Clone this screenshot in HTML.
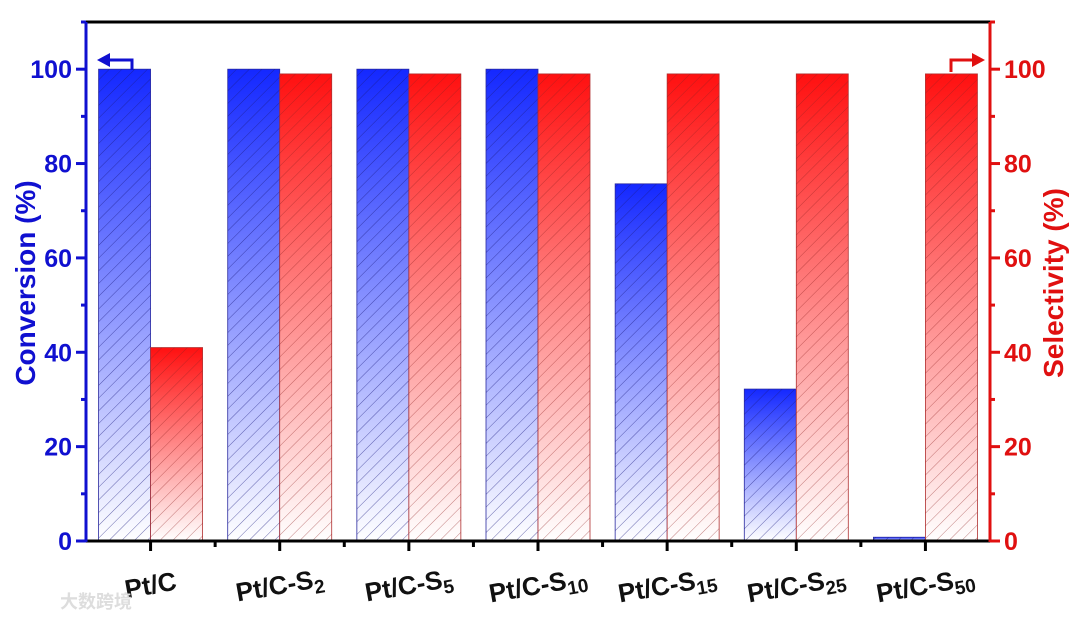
<!DOCTYPE html>
<html><head><meta charset="utf-8"><style>
html,body{margin:0;padding:0;background:#fff;width:1080px;height:621px;overflow:hidden}
svg{display:block;font-family:"Liberation Sans",Arial,sans-serif;font-weight:bold}
</style></head><body>
<svg id="chart" width="1080" height="621" viewBox="0 0 1080 621">
<defs>
<linearGradient id="gb" x1="0" y1="0" x2="0" y2="1"><stop offset="0" stop-color="#1428ff"/><stop offset="1" stop-color="#ffffff"/></linearGradient>
<linearGradient id="gr" x1="0" y1="0" x2="0" y2="1"><stop offset="0" stop-color="#ff1010"/><stop offset="1" stop-color="#ffffff"/></linearGradient>
<pattern id="hb" width="9" height="9" patternUnits="userSpaceOnUse" patternTransform="rotate(45)"><line x1="0" y1="0" x2="0" y2="9" stroke="#1a1a80" stroke-width="0.8" opacity="0.8"/></pattern>
<pattern id="hr" width="9" height="9" patternUnits="userSpaceOnUse" patternTransform="rotate(45)"><line x1="0" y1="0" x2="0" y2="9" stroke="#902020" stroke-width="0.8" opacity="0.7"/></pattern>
</defs>
<g id="bars"></g>
<g id="axes"></g>
</svg>
<script>
const categories=["Pt/C","Pt/C-S|2","Pt/C-S|5","Pt/C-S|10","Pt/C-S|15","Pt/C-S|25","Pt/C-S|50"];
const conversion=[100,100,100,100,75.7,32.2,0.8];
const selectivity=[41,99,99,99,99,99,99];
const yTicks=[0,20,40,60,80,100];
const L=86,R=990,T=22,B=541,YMAX=110;
const step=(R-L)/categories.length;
const xc=i=>L+step*(i+0.5);
const y=v=>B-(v/YMAX)*(B-T);
const NS="http://www.w3.org/2000/svg";
function mk(tag,attrs,parent){const e=document.createElementNS(NS,tag);for(const k in attrs)e.setAttribute(k,attrs[k]);parent.appendChild(e);return e;}
const bars=document.getElementById('bars'),axes=document.getElementById('axes');
const BW=52;
categories.forEach((c,i)=>{
  [[conversion[i],xc(i)-BW,'gb','hb','#2a2aa0','conversion'],[selectivity[i],xc(i),'gr','hr','#b03030','selectivity']].forEach(([v,x,g,h,s,n])=>{
    const r=mk('rect',{x:x,y:y(v),width:BW,height:B-y(v),fill:'url(#'+g+')',stroke:s,'stroke-width':0.8},bars);
    
    
    const o=mk('rect',{x:x,y:y(v),width:BW,height:B-y(v),fill:'url(#'+h+')'},bars);
    
    
  });
  const [base,sub]=c.split('|');
  const t=mk('text',{x:xc(i),y:594,'font-size':26,fill:'#111','text-anchor':'middle',transform:`rotate(-10 ${xc(i)} 585)`},axes);
  
  
  t.textContent=base;
  if(sub){const ts=mk('tspan',{'font-size':19,dy:6},t);ts.textContent=sub;}
});
mk('line',{x1:L,y1:T,x2:R,y2:T,stroke:'#000','stroke-width':3},axes);
const bx=mk('line',{x1:L,y1:B,x2:R,y2:B,stroke:'#000','stroke-width':3},axes);

for(let i=0;i<categories.length;i++){mk('line',{x1:xc(i),y1:B,x2:xc(i),y2:B+10,stroke:'#000','stroke-width':3},axes);if(i<categories.length-1)mk('line',{x1:L+step*(i+1),y1:B,x2:L+step*(i+1),y2:B+6,stroke:'#000','stroke-width':3},axes);}
const la=mk('line',{x1:L,y1:T,x2:L,y2:B+1,stroke:'#1010d0','stroke-width':3},axes);

const ra=mk('line',{x1:R,y1:T,x2:R,y2:B+1,stroke:'#e01010','stroke-width':3},axes);

yTicks.forEach(v=>{
  mk('line',{x1:L-10,y1:y(v),x2:L,y2:y(v),stroke:'#1010d0','stroke-width':3},axes);
  mk('line',{x1:R,y1:y(v),x2:R+10,y2:y(v),stroke:'#e01010','stroke-width':3},axes);
  mk('line',{x1:L-5,y1:y(v+10),x2:L,y2:y(v+10),stroke:'#1010d0','stroke-width':3},axes);
  mk('line',{x1:R,y1:y(v+10),x2:R+5,y2:y(v+10),stroke:'#e01010','stroke-width':3},axes);
  const a=mk('text',{x:L-14,y:y(v)+9,'font-size':25,fill:'#1010d0','text-anchor':'end'},axes);a.textContent=v;
  
  const b=mk('text',{x:R+14,y:y(v)+9,'font-size':25,fill:'#e01010'},axes);b.textContent=v;
  
});
const yl=mk('text',{x:0,y:0,'font-size':28,fill:'#1010d0','text-anchor':'middle',transform:'translate(35 283) rotate(-90)'},axes);
yl.textContent='Conversion (%)';
const yr=mk('text',{x:0,y:0,'font-size':28,fill:'#e01010','text-anchor':'middle',transform:'translate(1063 283) rotate(-90)'},axes);
yr.textContent='Selectivity (%)';
const al=mk('path',{d:`M132 70 V60 H108`,fill:'none',stroke:'#1010d0','stroke-width':3},axes);

mk('path',{d:'M97 60 L110 53 L110 67 Z',fill:'#1010d0'},axes);
const ar=mk('path',{d:`M951 72 V60 H974`,fill:'none',stroke:'#e01010','stroke-width':3},axes);

mk('path',{d:'M985 60 L972 53 L972 67 Z',fill:'#e01010'},axes);
const wm=mk('text',{x:60,y:608,'font-size':18,fill:'#ddd','font-family':'"Liberation Sans","Noto Sans CJK SC",sans-serif'},axes);
wm.textContent='大数跨境';
</script>
</body></html>
